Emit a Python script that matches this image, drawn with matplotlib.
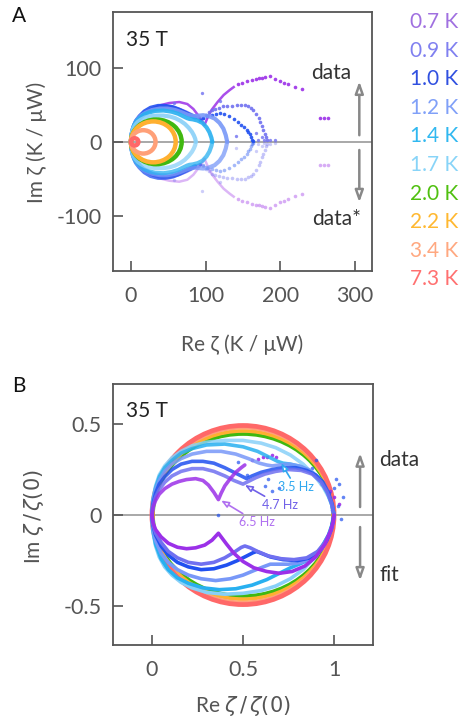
import matplotlib
matplotlib.use('Agg')
import matplotlib.pyplot as plt
from matplotlib.patches import Ellipse

plt.rcParams['font.family'] = ['Lato', 'DejaVu Sans']
plt.rcParams['mathtext.fontset'] = 'dejavusans'

# ---------------- data ----------------
temps = ['0.7 K', '0.9 K', '1.0 K', '1.2 K', '1.4 K', '1.7 K', '2.0 K', '2.2 K', '3.4 K', '7.3 K']
colors = ['#9b30e8', '#7070f0', '#2050f0', '#7898f8', '#28b0f0', '#88d0f8',
          '#40b810', '#ffb030', '#ffa078', '#ff6868']
label_colors = ['#a070e0', '#8080f0', '#3050e0', '#80a0f8', '#30b8f0', '#88d4f8',
                '#50c010', '#ffb830', '#ffa880', '#ff7070']
zeta0 = [270, 185, 165, 129, 109, 87, 68, 60, 33, 10]   # K / uW

# normalized upper data (dense part), low temperatures
d07_re = [0, 0.005, 0.02, 0.04, 0.07, 0.11, 0.15, 0.19, 0.24, 0.28, 0.31, 0.34, 0.365,
          0.38, 0.40, 0.43, 0.46, 0.49, 0.51]
d07_im = [0, 0.04, 0.08, 0.115, 0.145, 0.17, 0.185, 0.195, 0.20, 0.19, 0.165, 0.125, 0.085,
          0.12, 0.16, 0.20, 0.235, 0.26, 0.275]
d09_re = [0, 0.005, 0.02, 0.04, 0.07, 0.11, 0.16, 0.22, 0.28, 0.34, 0.40, 0.45, 0.50]
d09_im = [0, 0.05, 0.10, 0.14, 0.18, 0.215, 0.24, 0.255, 0.255, 0.24, 0.215, 0.19, 0.17]
d10_re = [0, 0.005, 0.02, 0.04, 0.07, 0.11, 0.16, 0.22, 0.28, 0.34, 0.40, 0.45, 0.49, 0.52]
d10_im = [0, 0.06, 0.12, 0.17, 0.21, 0.25, 0.28, 0.295, 0.295, 0.285, 0.26, 0.235, 0.215, 0.20]
d12_re = [0, 0.005, 0.02, 0.04, 0.07, 0.11, 0.16, 0.22, 0.30, 0.38, 0.46, 0.53, 0.59, 0.63,
          0.66, 0.70, 0.75, 0.81, 0.87, 0.92, 0.96, 0.985, 1.0]
d12_im = [0, 0.07, 0.14, 0.19, 0.24, 0.28, 0.31, 0.335, 0.35, 0.35, 0.335, 0.31, 0.285, 0.275,
          0.27, 0.275, 0.28, 0.27, 0.245, 0.20, 0.14, 0.07, 0]
d14_re = [0, 0.005, 0.02, 0.04, 0.07, 0.11, 0.16, 0.22, 0.30, 0.40, 0.50, 0.58, 0.64, 0.69,
          0.72, 0.76, 0.82, 0.88, 0.93, 0.965, 0.99, 1.0]
d14_im = [0, 0.08, 0.15, 0.21, 0.26, 0.30, 0.34, 0.365, 0.385, 0.39, 0.375, 0.35, 0.32, 0.295,
          0.285, 0.28, 0.265, 0.235, 0.18, 0.12, 0.05, 0]
d17_re = [0, 0.005, 0.02, 0.04, 0.07, 0.11, 0.16, 0.22, 0.30, 0.40, 0.50, 0.60, 0.68, 0.76,
          0.83, 0.89, 0.94, 0.97, 0.99, 1.0]
d17_im = [0, 0.085, 0.16, 0.22, 0.27, 0.315, 0.35, 0.38, 0.40, 0.41, 0.41, 0.395, 0.37, 0.33,
          0.28, 0.22, 0.155, 0.10, 0.05, 0]

# panel B continuation of data after the cusp (normalized)
c09_re = [0.53, 0.57, 0.62, 0.68, 0.75, 0.82, 0.88, 0.93, 0.96, 0.985, 1.0]
c09_im = [0.185, 0.205, 0.225, 0.24, 0.25, 0.245, 0.225, 0.18, 0.13, 0.07, 0]
c10_re = [0.55, 0.60, 0.66, 0.72, 0.79, 0.85, 0.90, 0.94, 0.97, 0.99, 1.0]
c10_im = [0.215, 0.235, 0.25, 0.26, 0.26, 0.245, 0.22, 0.18, 0.12, 0.06, 0]
# panel B sparse dots for 0.7 K and scatter near Re = 1
b07_dots_re = [0.55, 0.58, 0.61, 0.63, 0.66, 0.68, 0.93, 0.95, 0.98, 1.0, 1.03]
b07_dots_im = [0.30, 0.31, 0.32, 0.32, 0.33, 0.32, 0.17, 0.15, 0.13, 0.10, 0.06]
bscat_re = [0.93, 0.97, 1.02, 1.04, 1.05, 1.00, 0.62, 0.66, 0.70, 0.88, 0.90, 1.01, 0.36, 0.64,
            1.03, 0.99, 0.47, 0.52]
bscat_im = [0.19, 0.12, 0.05, -0.02, 0.10, 0.15, 0.16, 0.13, 0.15, 0.26, 0.30, 0.20, 0.0, 0.2,
            0.17, 0.03, 0.29, 0.22]

# panel A sparse arcs (K / uW)
a07_re = [143, 149, 155, 162, 167, 171, 176, 180, 187, 193, 200, 205, 210, 220, 229, 254, 259, 264]
a07_im = [78, 80, 82, 84, 85, 86, 87, 88, 89, 85, 82, 80, 78, 74, 71, 32, 32, 32]
a09_re = [96, 100, 104, 108, 113, 118, 124, 129, 135, 142, 148, 153, 157, 161, 164, 168,
          171, 173, 175, 177, 179, 181, 182]
a09_im = [33, 37, 40, 43, 45, 46, 48, 49, 49, 50, 50, 50, 48, 46, 43, 38,
          32, 27, 21, 16, 11, 6, 3]
a10_re = [92, 97, 102, 108, 114, 119, 125, 132, 138, 144, 148, 152, 155, 157, 159, 161, 162, 163]
a10_im = [30, 32, 35, 37, 38, 39, 38, 35, 31, 27, 23, 20, 16, 13, 10, 6, 3, 1]
aout_re = [95, 58, 170, 178, 186, 193, 120, 141, 167, 176]
aout_im = [66, 52, 3, 2, 3, 2, 55, 8, 12, 6]

# panel B fits (lower half, normalized)
f07_re = [0, 0.005, 0.02, 0.05, 0.09, 0.14, 0.19, 0.24, 0.29, 0.33, 0.365, 0.38, 0.41, 0.45,
          0.50, 0.56, 0.63, 0.70, 0.77, 0.84, 0.90, 0.95, 0.98, 0.995, 1.0]
f07_im = [0, -0.04, -0.08, -0.12, -0.155, -0.177, -0.185, -0.18, -0.165, -0.138, -0.10, -0.12,
          -0.16, -0.21, -0.255, -0.29, -0.31, -0.32, -0.31, -0.28, -0.23, -0.16, -0.09, -0.04, 0]
f09_re = [0, 0.005, 0.02, 0.05, 0.09, 0.14, 0.20, 0.27, 0.34, 0.40, 0.45, 0.49, 0.51, 0.54,
          0.58, 0.64, 0.71, 0.78, 0.85, 0.91, 0.95, 0.98, 0.995, 1.0]
f09_im = [0, -0.05, -0.10, -0.15, -0.20, -0.235, -0.26, -0.27, -0.26, -0.235, -0.205, -0.178,
          -0.17, -0.18, -0.20, -0.225, -0.24, -0.245, -0.235, -0.20, -0.15, -0.09, -0.04, 0]
f10_re = [0, 0.005, 0.02, 0.05, 0.09, 0.14, 0.20, 0.27, 0.34, 0.41, 0.47, 0.52, 0.555, 0.575,
          0.60, 0.65, 0.72, 0.80, 0.87, 0.92, 0.96, 0.985, 1.0]
f10_im = [0, -0.055, -0.11, -0.17, -0.22, -0.26, -0.285, -0.30, -0.295, -0.275, -0.25, -0.225,
          -0.207, -0.20, -0.21, -0.23, -0.245, -0.25, -0.235, -0.20, -0.14, -0.08, 0]
f12_re = [0, 0.005, 0.02, 0.05, 0.09, 0.14, 0.20, 0.27, 0.35, 0.43, 0.50, 0.56, 0.61, 0.65,
          0.69, 0.75, 0.82, 0.88, 0.93, 0.97, 0.99, 1.0]
f12_im = [0, -0.07, -0.14, -0.21, -0.26, -0.30, -0.33, -0.35, -0.36, -0.35, -0.33, -0.305,
          -0.285, -0.27, -0.27, -0.27, -0.26, -0.235, -0.19, -0.12, -0.06, 0]
f14_re = [0, 0.005, 0.02, 0.05, 0.09, 0.14, 0.20, 0.28, 0.37, 0.46, 0.55, 0.63, 0.70, 0.76,
          0.82, 0.88, 0.93, 0.97, 0.99, 1.0]
f14_im = [0, -0.08, -0.16, -0.24, -0.30, -0.345, -0.375, -0.40, -0.41, -0.405, -0.385, -0.355,
          -0.32, -0.29, -0.265, -0.235, -0.18, -0.11, -0.05, 0]
f17_re = [0, 0.005, 0.02, 0.04, 0.07, 0.11, 0.16, 0.22, 0.30, 0.40, 0.50, 0.60, 0.68, 0.76,
          0.83, 0.89, 0.94, 0.97, 0.99, 1.0]
f17_im = [0, -0.09, -0.17, -0.23, -0.285, -0.33, -0.37, -0.40, -0.425, -0.435, -0.43, -0.415,
          -0.39, -0.35, -0.30, -0.235, -0.165, -0.11, -0.055, 0]

# high temperature rings: normalized half-height
ring_h = [0.445, 0.462, 0.48, 0.492]   # 2.0, 2.2, 3.4, 7.3 K

dense = [(d07_re, d07_im), (d09_re, d09_im), (d10_re, d10_im),
         (d12_re, d12_im), (d14_re, d14_im), (d17_re, d17_im)]
fits = [(f07_re, f07_im), (f09_re, f09_im), (f10_re, f10_im),
        (f12_re, f12_im), (f14_re, f14_im), (f17_re, f17_im)]
asparse = {0: (a07_re, a07_im), 1: (a09_re, a09_im), 2: (a10_re, a10_im)}
bcont = {1: (c09_re, c09_im), 2: (c10_re, c10_im)}

# ---------------- figure ----------------
W, H = 461, 720
fig = plt.figure(figsize=(W / 100, H / 100), dpi=100)

def px_axes(l, r, t, b):
    return fig.add_axes([l / W, 1 - b / H, (r - l) / W, (b - t) / H])

axA = px_axes(113, 372, 12, 271)
axB = px_axes(113, 373, 384, 645)

for ax in (axA, axB):
    for s in ax.spines.values():
        s.set_color('#555555')
        s.set_linewidth(1.3)
    ax.tick_params(direction='in', length=7, width=1.2, color='#555555',
                   labelcolor='#555555', labelsize=15.5)
    ax.tick_params(axis='x', pad=11)
    ax.tick_params(axis='y', pad=8)

# ---- panel A ----
axA.set_xlim(-24, 323)
axA.set_ylim(-175, 176)
axA.axhline(0, color='#999999', lw=1.2, zorder=1)

for i in range(6):
    re, im = dense[i]
    z = zeta0[i]
    xr = [v * z for v in re]
    yi = [v * z for v in im]
    if i == 0:
        axA.plot(xr, yi, color=colors[i], lw=1.8, alpha=0.85, zorder=1.5)
        axA.plot(xr, [-v for v in yi], color=colors[i], lw=1.8, alpha=0.35, zorder=1.5)
    else:
        axA.plot(xr, yi, color=colors[i], lw=3, alpha=0.9, solid_capstyle='round', zorder=2)
        axA.plot(xr, [-v for v in yi], color=colors[i], lw=3, alpha=0.75,
                 solid_capstyle='round', zorder=2)
    if i in asparse:
        sr, si = asparse[i]
        axA.plot(sr, si, 'o', ms=2.6, color=colors[i], mec='none', alpha=0.9, zorder=2)
        axA.plot(sr, [-v for v in si], 'o', ms=2.6, color=colors[i], mec='none', alpha=0.4, zorder=2)
axA.plot(aout_re, aout_im, 'o', ms=2.4, color=colors[1], mec='none', alpha=0.8)
axA.plot(aout_re, [-v for v in aout_im], 'o', ms=2.4, color=colors[1], mec='none', alpha=0.35)

for k, h in enumerate(ring_h):
    i = 6 + k
    z = zeta0[i]
    axA.add_patch(Ellipse((z / 2, 0), z, 2 * h * z, fill=False, ec=colors[i], lw=3.2, zorder=3))

axA.set_xticks([0, 100, 200, 300])
axA.set_xticklabels(['0', '100', '200', '300'])
axA.set_yticks([-100, 0, 100])
axA.set_yticklabels(['-100', '0', '100'])

axA.text(0.05, 0.89, '35 T', transform=axA.transAxes, fontsize=15, color='#222222', va='center')
axA.text(268, 93, 'data', fontsize=15, color='#333333', ha='center', va='center')
axA.text(276, -105, 'data*', fontsize=15, color='#333333', ha='center', va='center')
arrow_kw = dict(arrowstyle='-|>,head_length=0.7,head_width=0.25', color='#888888',
                fc='white', lw=1.8, shrinkA=0, shrinkB=0)
axA.annotate('', xy=(306, 82), xytext=(306, 9), arrowprops=arrow_kw)
axA.annotate('', xy=(306, -82), xytext=(306, -11), arrowprops=arrow_kw)

# ---- panel B ----
axB.set_xlim(-0.214, 1.214)
axB.set_ylim(-0.714, 0.72)
axB.axhline(0, color='#999999', lw=1.2, zorder=1)

for k, h in enumerate(ring_h):
    i = 6 + k
    axB.add_patch(Ellipse((0.5, 0), 1.0 - 0.004 * (3 - k), 2 * h, fill=False, ec=colors[i],
                          lw=2.6 if k < 3 else 3.4, zorder=2))

for i in range(5, -1, -1):
    re, im = dense[i]
    if i in bcont:
        cr, ci = bcont[i]
        re = re + cr
        im = im + ci
    axB.plot(re, im, color=colors[i], lw=2.6, alpha=0.85, solid_capstyle='round',
             solid_joinstyle='round', zorder=3)
    fr, fi = fits[i]
    axB.plot(fr, fi, color=colors[i], lw=2.6, solid_capstyle='round',
             solid_joinstyle='round', zorder=3)
axB.plot(b07_dots_re, b07_dots_im, 'o', ms=2.6, color=colors[0], mec='none', alpha=0.9)
axB.plot(bscat_re, bscat_im, 'o', ms=2.6, color=colors[2], mec='none', alpha=0.7)

axB.set_xticks([0, 0.5, 1])
axB.set_xticklabels(['0', '0.5', '1'])
axB.set_yticks([-0.5, 0, 0.5])
axB.set_yticklabels(['-0.5', '0', '0.5'])

axB.text(0.05, 0.895, '35 T', transform=axB.transAxes, fontsize=15, color='#222222', va='center')
axB.annotate('', xy=(1.143, 0.34), xytext=(1.143, 0.044), arrowprops=arrow_kw)
axB.annotate('', xy=(1.143, -0.36), xytext=(1.143, -0.066), arrowprops=arrow_kw)
axB.text(1.25, 0.30, 'data', fontsize=15, color='#333333', ha='left', va='center', clip_on=False)
axB.text(1.25, -0.33, 'fit', fontsize=15, color='#333333', ha='left', va='center', clip_on=False)

hz_kw = lambda c: dict(arrowstyle='-|>,head_length=0.5,head_width=0.2', color=c, fc='white',
                       lw=1.2, shrinkA=0, shrinkB=0)
axB.annotate('3.5 Hz', xy=(0.71, 0.285), xytext=(0.69, 0.155), fontsize=9, color='#30a8f0',
             va='center', arrowprops=hz_kw('#30a8f0'))
axB.annotate('4.7 Hz', xy=(0.51, 0.165), xytext=(0.605, 0.055), fontsize=9, color='#7060e8',
             va='center', arrowprops=hz_kw('#7060e8'))
axB.annotate('6.5 Hz', xy=(0.38, 0.08), xytext=(0.48, -0.04), fontsize=9, color='#b070f0',
             va='center', arrowprops=hz_kw('#b070f0'))

# ---- legend column ----
for i, t in enumerate(temps):
    fig.text(458 / W, 1 - (22 + i * 28.6) / H, t, color=label_colors[i], fontsize=15,
             ha='right', va='center')

# ---- axis labels & panel letters ----
fig.text(37 / W, 1 - 142 / H, 'Im ζ (K / μW)', rotation=90, fontsize=15, color='#555555',
         ha='center', va='center')
fig.text(242 / W, 1 - 345 / H, 'Re ζ (K / μW)', fontsize=15, color='#555555',
         ha='center', va='center')
fig.text(34 / W, 1 - 517 / H, r'Im $\zeta\,/\,\zeta(0)$', rotation=90, fontsize=15, color='#555555',
         ha='center', va='center')
fig.text(243 / W, 1 - 706 / H, r'Re $\zeta\,/\,\zeta(0)$', fontsize=15, color='#555555',
         ha='center', va='center')
fig.text(12 / W, 1 - 16 / H, 'A', fontsize=15, color='#111111', ha='left', va='center')
fig.text(12 / W, 1 - 386 / H, 'B', fontsize=15, color='#111111', ha='left', va='center')

fig.savefig('out.png', dpi=100)
